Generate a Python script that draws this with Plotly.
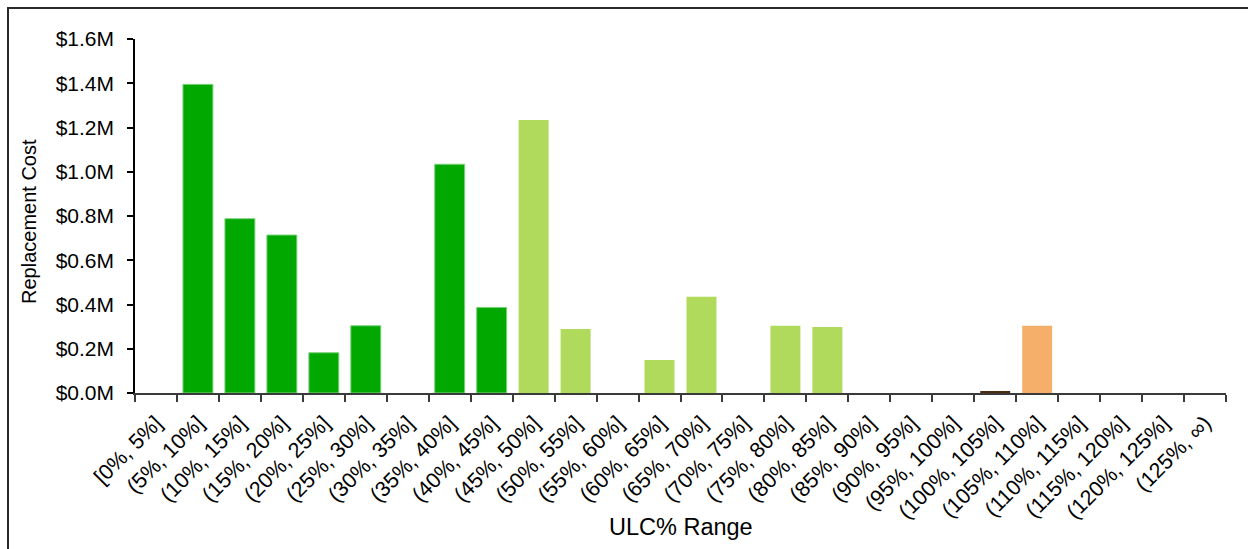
import plotly.graph_objects as go

# ULC% buckets and the replacement cost falling in each (US dollars)
categories = [
    "[0%, 5%]", "(5%, 10%]", "(10%, 15%]", "(15%, 20%]", "(20%, 25%]",
    "(25%, 30%]", "(30%, 35%]", "(35%, 40%]", "(40%, 45%]", "(45%, 50%]",
    "(50%, 55%]", "(55%, 60%]", "(60%, 65%]", "(65%, 70%]", "(70%, 75%]",
    "(75%, 80%]", "(80%, 85%]", "(85%, 90%]", "(90%, 95%]", "(95%, 100%]",
    "(100%, 105%]", "(105%, 110%]", "(110%, 115%]", "(115%, 120%]",
    "(120%, 125%]", "(125%, \u221e)",
]
replacement_cost = [
    0, 1_395_000, 788_000, 714_000, 182_000,
    304_000, 0, 1_034_000, 387_000, 1_234_000,
    289_000, 0, 149_000, 435_000, 0,
    304_000, 298_000, 0, 0, 0,
    5_000, 304_000, 0, 0,
    0, 0,
]

# colour band per bucket
DARK_GREEN = "#00A800"
LIGHT_GREEN = "#B0DA5C"
BROWN = "#4B2B10"
ORANGE = "#F5AF6A"
bar_colors = (
    [DARK_GREEN] * 9
    + [LIGHT_GREEN] * 11
    + [BROWN]
    + [ORANGE]
    + [ORANGE] * 4
)
# dark-green bars carry a faint light edge; empty buckets draw nothing
edge_colors = ["#7FD27F" if c == DARK_GREEN else c for c in bar_colors]
edge_widths = [1 if (c == DARK_GREEN and v > 0) else 0
               for c, v in zip(bar_colors, replacement_cost)]

y_ticks = [0, 200_000, 400_000, 600_000, 800_000, 1_000_000, 1_200_000, 1_400_000, 1_600_000]
y_tick_text = ["$0.0M", "$0.2M", "$0.4M", "$0.6M", "$0.8M", "$1.0M", "$1.2M", "$1.4M", "$1.6M"]

FONT = "Liberation Sans, Arial, sans-serif"

fig = go.Figure(
    go.Bar(
        x=categories,
        y=replacement_cost,
        marker=dict(color=bar_colors, line=dict(color=edge_colors, width=edge_widths)),
        hovertemplate="%{x}<br>%{y:$,.0f}<extra></extra>",
    )
)

W, H = 1248, 549
L, R, T, B = 135, 22, 39, 156
plot_w = W - L - R
plot_h = H - T - B

fig.update_layout(
    width=W,
    height=H,
    margin=dict(l=L, r=R, t=T, b=B, pad=0),
    paper_bgcolor="white",
    plot_bgcolor="white",
    bargap=0.286,
    showlegend=False,
    font=dict(family=FONT, size=20, color="black"),
    xaxis=dict(
        type="category",
        tickson="boundaries",
        ticks="outside",
        ticklen=7,
        tickwidth=2,
        tickcolor="#3a3a3a",
        showline=True,
        linecolor="#3a3a3a",
        linewidth=2,
        showgrid=False,
        tickangle=-45,
        ticklabelstandoff=7,
        tickfont=dict(family=FONT, size=21.5, color="black"),
        fixedrange=True,
    ),
    yaxis=dict(
        range=[0, 1_600_000],
        tickvals=y_ticks,
        ticktext=y_tick_text,
        ticks="outside",
        ticklen=6,
        tickwidth=1.5,
        tickcolor="black",
        showline=True,
        linecolor="black",
        linewidth=1.5,
        showgrid=False,
        zeroline=False,
        ticklabelstandoff=9,
        tickfont=dict(family=FONT, size=21, color="black"),
        fixedrange=True,
    ),
    annotations=[
        dict(
            text="Replacement Cost",
            xref="paper", yref="paper",
            x=(29 - L) / plot_w, y=(H - B - 222) / plot_h,
            xanchor="center", yanchor="middle",
            textangle=-90, showarrow=False,
            font=dict(family=FONT, size=20, color="black"),
        ),
        dict(
            text="ULC% Range",
            xref="paper", yref="paper",
            x=0.5, y=(H - B - 527) / plot_h,
            xanchor="center", yanchor="middle",
            showarrow=False,
            font=dict(family=FONT, size=23.5, color="black"),
        ),
    ],
    shapes=[
        # chart-area frame
        dict(
            type="rect", xref="paper", yref="paper",
            x0=(8 - L) / plot_w, x1=1.2,
            y0=-1.0, y1=(H - B - 8) / plot_h,
            line=dict(color="#2a2a2a", width=2),
            fillcolor="rgba(0,0,0,0)",
            layer="below",
        )
    ],
)

fig.write_html("out.html")
